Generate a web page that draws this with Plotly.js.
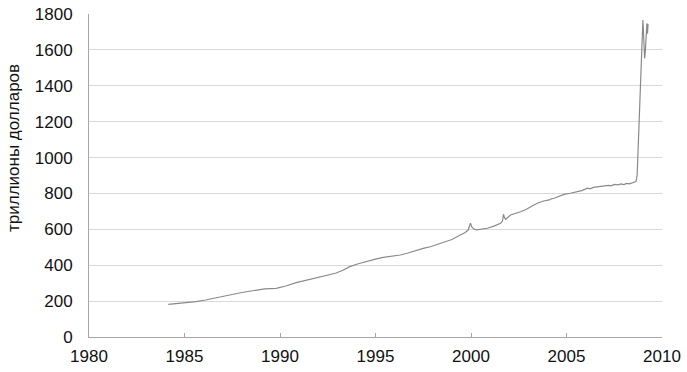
<!DOCTYPE html>
<html>
<head>
<meta charset="utf-8">
<script src="https://cdn.plot.ly/plotly-3.0.1.min.js"></script>
<style>html,body{margin:0;padding:0;background:#fff;}#chart{width:687px;height:372px;}</style>
</head>
<body>
<div id="chart"></div>
<script>
// Dates as decimal years, values in the chart's units
const years = [
  1984.15, 1984.5, 1984.9, 1985.25, 1985.6, 1986.1, 1986.5, 1986.9, 1987.2, 1987.6,
  1988.0, 1988.4, 1988.75, 1989.2, 1989.8, 1990.3, 1990.85, 1991.3, 1991.8, 1992.4,
  1992.9, 1993.3, 1993.65, 1994.1, 1994.55, 1995.0, 1995.4, 1995.9, 1996.3, 1996.7,
  1997.15, 1997.5, 1997.87, 1998.2, 1998.6, 1999.0, 1999.44, 1999.7, 1999.85, 1999.97,
  2000.05, 2000.15, 2000.3, 2000.6, 2000.85, 2001.2, 2001.55, 2001.65, 2001.7, 2001.76,
  2001.82, 2002.07, 2002.3, 2002.45, 2002.6, 2002.9, 2003.05, 2003.2, 2003.47, 2003.6,
  2003.8, 2004.1, 2004.2, 2004.35, 2004.6, 2004.75, 2004.87, 2005.2, 2005.4, 2005.57,
  2005.8, 2006.1, 2006.25, 2006.4, 2006.7, 2006.97, 2007.2, 2007.35, 2007.5, 2007.7,
  2007.85, 2008.0, 2008.15, 2008.29, 2008.45, 2008.55, 2008.64, 2008.7, 2008.74,
  2008.8, 2008.86, 2008.92, 2008.97, 2009.0, 2009.03, 2009.06, 2009.09, 2009.12, 2009.15,
  2009.18, 2009.21, 2009.24, 2009.27
];
const base = [
  182, 186, 188, 191, 197, 206, 215, 224, 234, 242,
  248, 255, 262, 268, 271, 284, 303, 315, 326, 340,
  355, 372, 392, 408, 423, 434, 444, 450, 457, 468,
  485, 494, 503, 515, 527, 543, 568, 582, 596, 634,
  612, 602, 597, 600, 606, 618, 634, 646, 684, 664,
  656, 680, 686, 694, 698, 712, 722, 730, 745, 750,
  758, 764, 770, 773, 782, 790, 795, 801, 806, 810,
  816, 829, 826, 834, 838, 841, 845, 842, 850, 848,
  853, 849, 856, 853, 858, 862, 866, 905, 1010,
  1180, 1350, 1500, 1640, 1766, 1700, 1610, 1553, 1580, 1640,
  1700, 1748, 1690, 1745
];
const xTicks = [1980, 1985, 1990, 1995, 2000, 2005, 2010];
const yTicks = [0, 200, 400, 600, 800, 1000, 1200, 1400, 1600, 1800];
const yTitle = 'триллионы долларов';

const font = 'Liberation Sans, Arial, sans-serif';
const L = 89, R = 662, T = 14, B = 337, W = 687, H = 372;
Plotly.newPlot('chart', [{
  x: years, y: base, type: 'scatter', mode: 'lines',
  line: {color: '#8a8a8a', width: 1.2}, hoverinfo: 'skip'
}], {
  width: W, height: H,
  margin: {l: L, r: W - R, t: T, b: H - B},
  paper_bgcolor: '#fff', plot_bgcolor: '#fff',
  showlegend: false,
  font: {family: font, size: 17, color: '#000'},
  xaxis: {
    range: [1980, 2010], tickvals: xTicks, ticktext: xTicks.map(String),
    showgrid: false, zeroline: false, showline: true, linecolor: '#a6a6a6', linewidth: 1,
    ticks: 'inside', ticklen: 4, tickcolor: '#a6a6a6',
    ticklabelstandoff: 4,
    tickfont: {family: font, size: 17, color: '#111'}
  },
  yaxis: {
    range: [0, 1800], tickvals: yTicks, ticktext: yTicks.map(String),
    showgrid: true, gridcolor: '#d9d9d9', gridwidth: 1, zeroline: false,
    showline: true, linecolor: '#a6a6a6', linewidth: 1, ticks: '',
    ticklabelstandoff: 12,
    tickfont: {family: font, size: 17, color: '#111'}
  },
  annotations: [{
    text: yTitle, textangle: -90, showarrow: false,
    xref: 'paper', yref: 'paper',
    x: (13 - L) / (R - L), y: (B - 148) / (B - T),
    xanchor: 'center', yanchor: 'middle',
    font: {family: font, size: 17, color: '#111'}
  }]
}, {staticPlot: true, displayModeBar: false});
</script>
</body>
</html>
